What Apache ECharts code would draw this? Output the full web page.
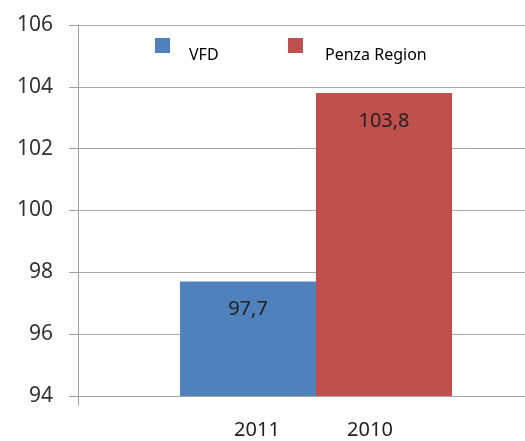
<!DOCTYPE html>
<html>
<head>
<meta charset="utf-8">
<script src="https://cdn.jsdelivr.net/npm/echarts@6/dist/echarts.min.js"></script>
<style>
html,body{margin:0;padding:0;background:#fff;}
#main{width:525px;height:441px;}
</style>
</head>
<body>
<div id="main"></div>
<script>
//图表数据
var categories=['2011','2010'];
var seriesNames=['VFD','Penza Region'];
var vfdValues=[97.7,null];
var penzaValues=[null,103.8];
var yMin=94,yMax=106,yStep=2;

var fontName='Noto Sans';
var lineColor='#a0a0a0';
var myChart=echarts.init(document.getElementById('main'));

//数值显示为逗号小数
function commaLabel(p){
	return String(p.value).replace('.',',');
}

//图例文字下移
function legendOf(name,x,gap){
	return {
		data:[name],
		left:x,top:33,
		itemWidth:15,itemHeight:15,
		icon:'rect',
		formatter:'{t|{name}}',
		textStyle:{
			fontFamily:fontName,fontSize:16,color:'#000',
			rich:{t:{fontFamily:fontName,fontSize:16,color:'#000',padding:[20,0,0,gap]}}
		}
	};
}

var option={
	animation:false,
	legend:[legendOf(seriesNames[0],150,14),legendOf(seriesNames[1],283,17)],
	grid:[
		{left:78,right:0,top:25,bottom:45,outerBoundsMode:'none',containLabel:false},
		{left:180,right:73,top:25,bottom:45,outerBoundsMode:'none',containLabel:false},
		//坐标轴下方的短延长线
		{left:78,right:0,top:396,bottom:36,outerBoundsMode:'none',containLabel:false}
	],
	xAxis:[{
		gridIndex:0,type:'value',min:0,max:1,show:false
	},{
		gridIndex:1,type:'category',data:categories,
		axisLine:{show:false},axisTick:{show:false},
		axisLabel:{fontFamily:fontName,fontSize:20,color:'#222',margin:24,
			formatter:function(v,i){return i==0?'{a|'+v+'}':'{b|'+v+'}';},
			rich:{
				a:{fontFamily:fontName,fontSize:20,color:'#222',padding:[0,0,0,18]},
				b:{fontFamily:fontName,fontSize:20,color:'#222',padding:[0,28,0,0]}
			}
		}
	},{
		gridIndex:2,type:'value',min:0,max:1,show:false
	}],
	yAxis:[{
		gridIndex:0,type:'value',min:yMin,max:yMax,interval:yStep,
		axisLine:{show:true,lineStyle:{color:lineColor}},
		axisTick:{show:true,length:9,lineStyle:{color:lineColor}},
		axisLabel:{fontFamily:fontName,fontSize:21,color:'#333',margin:25},
		splitLine:{lineStyle:{color:'#a6a6a6'}}
	},{
		gridIndex:1,type:'value',min:yMin,max:yMax,interval:yStep,show:false
	},{
		gridIndex:2,type:'value',min:0,max:1,
		axisLine:{show:true,lineStyle:{color:lineColor}},
		axisTick:{show:false},axisLabel:{show:false},splitLine:{show:false}
	}],
	series:[{
		name:seriesNames[0],type:'bar',xAxisIndex:1,yAxisIndex:1,
		data:vfdValues,barGap:'-100%',barCategoryGap:'0%',
		itemStyle:{color:'#4f81bd'},
		label:{show:true,position:'insideTop',distance:18,formatter:commaLabel,
			fontFamily:fontName,fontSize:20,color:'#222'}
	},{
		name:seriesNames[1],type:'bar',xAxisIndex:1,yAxisIndex:1,
		data:penzaValues,barGap:'-100%',barCategoryGap:'0%',
		itemStyle:{color:'#c0504d'},
		label:{show:true,position:'insideTop',distance:18,formatter:commaLabel,
			fontFamily:fontName,fontSize:20,color:'#222'}
	}]
};
myChart.setOption(option);
</script>
</body>
</html>
